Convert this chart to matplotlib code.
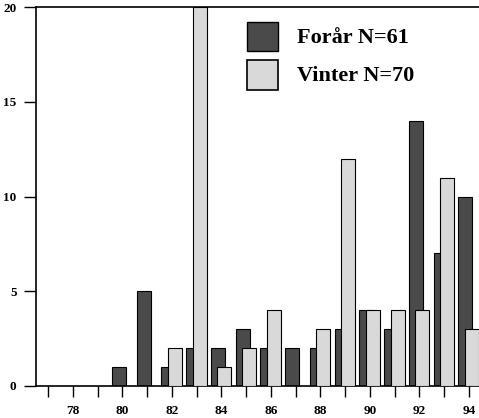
import matplotlib
matplotlib.use("Agg")
import matplotlib.pyplot as plt
from matplotlib.patches import Rectangle
import numpy as np

years = [77, 78, 79, 80, 81, 82, 83, 84, 85, 86, 87, 88, 89, 90, 91, 92, 93, 94]
forar = [0, 0, 0, 1, 5, 1, 2, 2, 3, 2, 2, 2, 3, 4, 3, 14, 7, 10]
vinter = [0, 0, 0, 0, 0, 2, 20, 1, 2, 4, 0, 3, 12, 4, 4, 4, 11, 3]
labels = ["Forår N=61", "Vinter N=70"]
yticks = [0, 5, 10, 15, 20]

plt.rcParams['font.family'] = ['Liberation Serif', 'DejaVu Serif']
plt.rcParams['font.weight'] = 'bold'

fig = plt.figure(figsize=(4.79, 4.18), dpi=100)
ax = fig.add_axes([36/479, 32/418, 1 - 36/479, (386-7)/418])

x = np.array(years, dtype=float)
w = 0.57
dark = '#4a4a4a'
light = '#d9d9d9'
for xi, v in zip(x, forar):
    if v > 0:
        ax.bar(xi - 0.14, v, width=w, color=dark, edgecolor='black', linewidth=0.8, zorder=2)
for xi, v in zip(x, vinter):
    if v > 0:
        ax.bar(xi + 0.12, v, width=w, color=light, edgecolor='black', linewidth=0.8, zorder=3)

ax.set_xlim(76.51, 94.41)
ax.set_ylim(0, 20)
ax.set_yticks(yticks)
ax.set_yticklabels([str(t) for t in yticks], fontsize=9.5, fontweight='bold')
ax.set_xticks(years)
ax.set_xticklabels([str(y) if y % 2 == 0 else "" for y in years], fontsize=9.5, fontweight='bold')
ax.tick_params(axis='y', direction='out', length=9, width=1, pad=5)
ax.tick_params(axis='x', direction='out', length=8, width=1, pad=6)
ax.spines['right'].set_visible(False)
ax.spines['top'].set_linewidth(1.2)
ax.spines['left'].set_linewidth(1.2)
ax.spines['bottom'].set_linewidth(1.2)

# legend
fig.add_artist(Rectangle((247/479, 1 - 51/418), 31/479, 29/418, transform=fig.transFigure,
                         facecolor=dark, edgecolor='black', linewidth=1))
fig.add_artist(Rectangle((247/479, 1 - 90/418), 31/479, 30/418, transform=fig.transFigure,
                         facecolor=light, edgecolor='black', linewidth=1.2))
fig.text(297/479, 1 - 38/418, labels[0], fontsize=16, fontweight='bold', va='center', ha='left')
fig.text(297/479, 1 - 76/418, labels[1], fontsize=16, fontweight='bold', va='center', ha='left')

fig.savefig("out.png", dpi=100)
